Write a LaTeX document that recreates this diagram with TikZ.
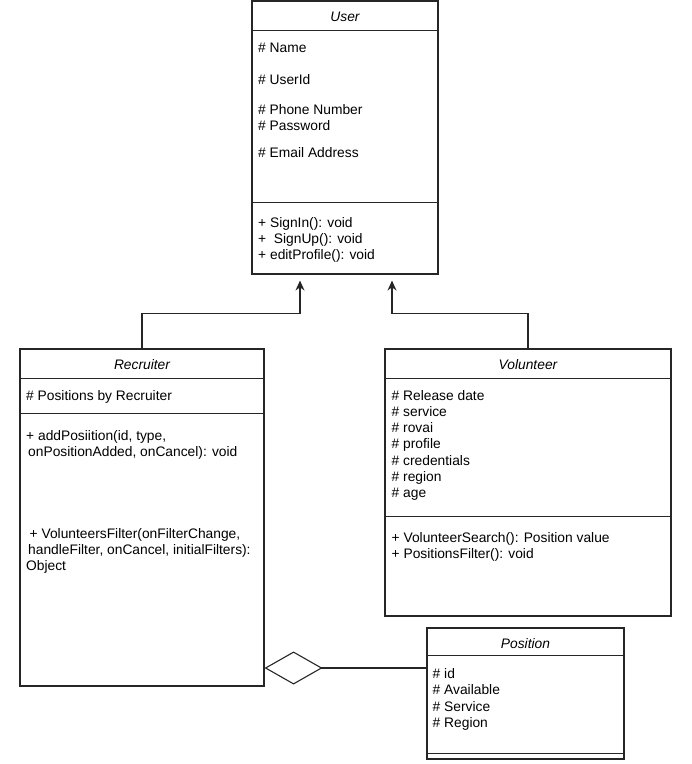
\documentclass[tikz,border=0pt]{standalone}
\usepackage{fontspec}
\setmainfont{Liberation Sans}
\usetikzlibrary{positioning,arrows.meta}

\tikzset{
  classbox/.style={draw=black!85, line width=1.1pt, rectangle, inner sep=0pt},
  sepline/.style={draw=black!85, line width=1.1pt},
  classtitle/.style={font=\fontsize{13.8}{16}\selectfont\itshape, anchor=base, inner sep=0pt, text=black},
  member/.style={font=\fontsize{13.8}{16}\selectfont, anchor=base west, inner sep=0pt, text=black},
  inherit/.style={draw=black!85, line width=1.1pt, -{Stealth[length=10pt,width=9pt]}},
  aggr/.style={draw=black!85, line width=1.1pt, -{Diamond[open,length=58pt,width=33pt]}},
}

\begin{document}
\begin{tikzpicture}[x=1pt,y=1pt]
\useasboundingbox (0,0) rectangle (692,-764);

% class boxes
\node[classbox, minimum width=186pt, minimum height=273pt] (user) at (345,-137.5) {};
\node[classbox, minimum width=244pt, minimum height=337pt] (recruiter) at (142,-517.5) {};
\node[classbox, minimum width=286pt, minimum height=267pt] (volunteer) at (528,-482.5) {};
\node[classbox, minimum width=197pt, minimum height=131pt] (position) at (525.5,-693.5) {};

% compartments
\draw[sepline] ([yshift=-30pt]user.north west) -- ([yshift=-30pt]user.north east);
\draw[sepline] ([yshift=-202pt]user.north west) -- ([yshift=-202pt]user.north east);
\draw[sepline] ([yshift=-30pt]recruiter.north west) -- ([yshift=-30pt]recruiter.north east);
\draw[sepline] ([yshift=-65pt]recruiter.north west) -- ([yshift=-65pt]recruiter.north east);
\draw[sepline] ([yshift=-30pt]volunteer.north west) -- ([yshift=-30pt]volunteer.north east);
\draw[sepline] ([yshift=-168pt]volunteer.north west) -- ([yshift=-168pt]volunteer.north east);
\draw[sepline] ([yshift=-28pt]position.north west) -- ([yshift=-28pt]position.north east);
\draw[sepline] ([yshift=-126pt]position.north west) -- ([yshift=-126pt]position.north east);

% titles
\node[classtitle] (usertitle) at (345,-21) {User};
\node[classtitle] (rectitle) at (142,-369.5) {Recruiter};
\node[classtitle] (voltitle) at (528,-369.5) {Volunteer};
\node[classtitle] (postitle) at (525.5,-648) {Position};

% User
\node[member] (u1) at (258,-52) {\# Name};
\node[member] (u2) at (258,-84) {\# UserId};
\node[member] (u3) at (258,-114) {\# Phone Number};
\node[member] (u4) at (258,-130.5) {\# Password};
\node[member] (u5) at (258,-157.5) {\# Email Address};
\node[member] (um1) at (258,-227) {+ SignIn(): void};
\node[member] (um2) at (258,-243) {+ \ SignUp(): void};
\node[member] (um3) at (258,-259.5) {+ editProfile(): void};

% Recruiter
\node[member] (r1) at (26,-400) {\# Positions by Recruiter};
\node[member] (rm1) at (26,-440) {+ addPosiition(id, type,};
\node[member] (rm2) at (28,-456) {onPositionAdded, onCancel): void};
\node[member] (rm3) at (29.5,-538) {+ VolunteersFilter(onFilterChange,};
\node[member] (rm4) at (28,-554) {handleFilter, onCancel, initialFilters):};
\node[member] (rm5) at (26,-570) {Object};

% Volunteer
\foreach \txt [count=\i] in {Release date, service, rovai, profile, credentials, region, age}
  \node[member] (va\i) at (391.5,{-400-16.3*(\i-1)}) {\# \txt};
\node[member] (vm1) at (391.5,-542) {+ VolunteerSearch(): Position value};
\node[member] (vm2) at (391.5,-558) {+ PositionsFilter(): void};

% Position
\node[member] (p1) at (432.5,-678) {\# id};
\node[member] (p2) at (432.5,-694.5) {\# Available};
\node[member] (p3) at (432.5,-711) {\# Service};
\node[member] (p4) at (432.5,-727) {\# Region};

% relations
\coordinate (posin) at ([yshift=25.5pt]position.west);
\draw[inherit] (recruiter.north) -- ++(0,35) -| ([xshift=-45pt,yshift=-6pt]user.south);
\draw[inherit] (volunteer.north) -- ++(0,35) -| ([xshift=47pt,yshift=-6pt]user.south);
\draw[aggr] (posin) -- (recruiter.east |- posin);
\end{tikzpicture}
\end{document}
